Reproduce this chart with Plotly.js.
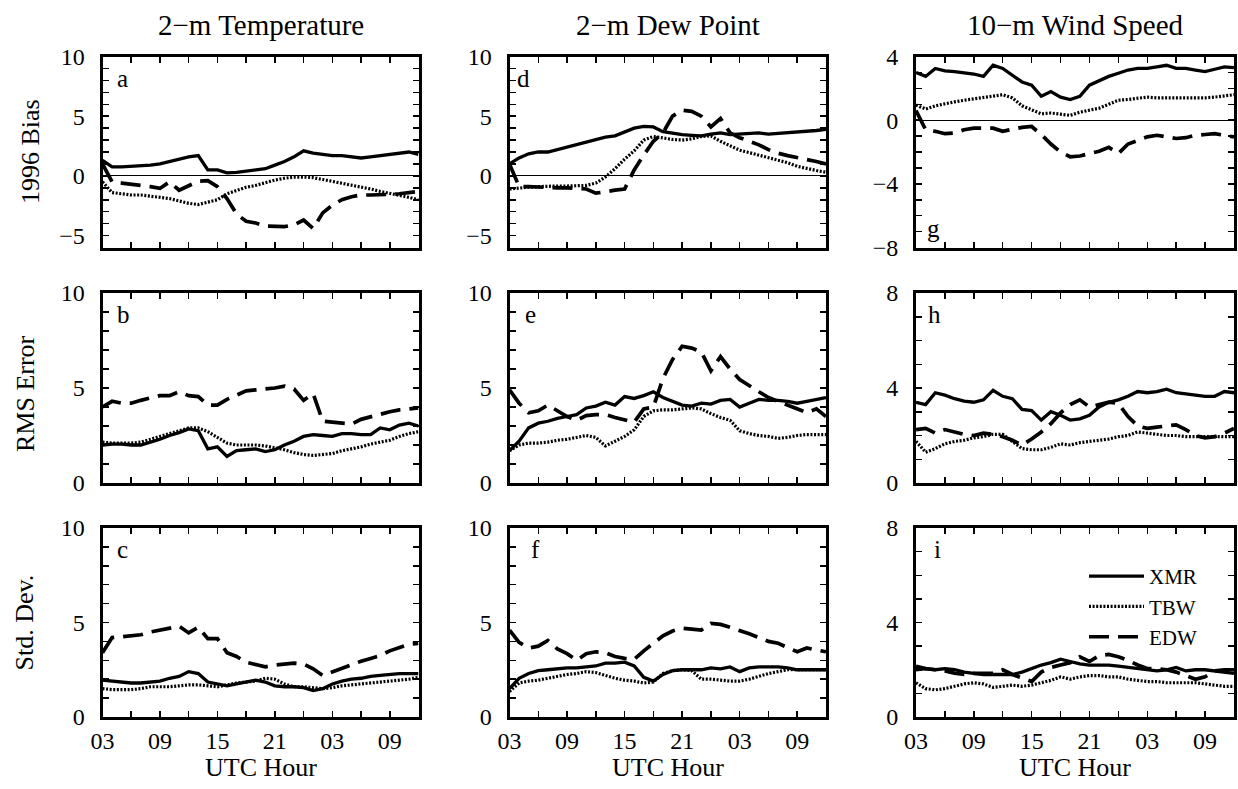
<!DOCTYPE html>
<html><head><meta charset="utf-8">
<script src="https://cdn.plot.ly/plotly-3.0.1.min.js"></script>
<style>html,body{margin:0;padding:0;background:#fff}#chart{width:1238px;height:789px}</style>
</head><body><div id="chart"></div>
<script>
// ---------------- DATA ----------------
const hours = [0,1,2,3,4,5,6,7,8,9,10,11,12,13,14,15,16,17,18,19,20,21,22,23,24,25,26,27,28,29,30,31,32,33];
const xTickVals = [0,3,6,9,12,15,18,21,24,27,30,33];
const xTickText = ['03','','09','','15','','21','','03','','09',''];

const seriesNames = ['XMR','TBW','EDW'];
const columnTitles = ['2\u2212m Temperature','2\u2212m Dew Point','10\u2212m Wind Speed'];
const rowTitles = ['1996 Bias','RMS Error','Std. Dev.'];
const panelLetters = [['a','d','g'],['b','e','h'],['c','f','i']];
const xAxisTitle = 'UTC Hour';

// Bias y ticks
const biasTickVals = [-6,-5,-4,-3,-2,-1,0,1,2,3,4,5,6,7,8,9,10];
const biasTickText = ['','\u22125','','','','','0','','','','','5','','','','','10'];
const windBiasTickVals = [-8,-7,-6,-5,-4,-3,-2,-1,0,1,2,3,4];
const windBiasTickText = ['\u22128','','','','\u22124','','','','0','','','','4'];
const errTickVals = [0,1,2,3,4,5,6,7,8,9,10];
const errTickText = ['0','','','','','5','','','','','10'];
const windErrTickVals = [0,1,2,3,4,5,6,7,8];
const windErrTickText = ['0','','','','4','','','','8'];

// Panel a: 2-m temperature bias
const tempBiasXMR = [1.3,0.75,0.75,0.8,0.8,0.9,1.0,1.2,1.4,1.6,1.7,0.5,0.5,0.25,0.3,0.4,0.5,0.6,0.9,1.2,1.6,2.1,1.9,1.8,1.7,1.7,1.6,1.5,1.6,1.7,1.8,1.9,2.0,1.8];
const tempBiasTBW = [-0.5,-1.4,-1.5,-1.6,-1.6,-1.7,-1.8,-1.9,-2.1,-2.3,-2.4,-2.2,-2.0,-1.5,-1.2,-0.95,-0.8,-0.55,-0.35,-0.2,-0.1,-0.1,-0.15,-0.3,-0.45,-0.6,-0.75,-0.9,-1.1,-1.3,-1.45,-1.6,-1.8,-2.0];
const tempBiasEDW = [1.0,-0.5,-0.6,-0.7,-0.75,-0.9,-1.05,-0.5,-1.2,-0.8,-0.45,-0.4,-0.9,-1.9,-3.2,-3.8,-3.95,-4.2,-4.25,-4.25,-4.1,-3.7,-4.4,-3.1,-2.45,-2.0,-1.75,-1.6,-1.6,-1.6,-1.55,-1.5,-1.4,-1.3];
// Panel b: 2-m temperature RMS error
const tempRmsXMR = [2.0,2.05,2.05,2.0,2.0,2.15,2.3,2.5,2.65,2.85,2.75,1.8,1.9,1.4,1.7,1.75,1.8,1.65,1.75,2.0,2.2,2.45,2.55,2.5,2.45,2.6,2.6,2.55,2.55,2.9,2.8,3.05,3.15,3.0];
const tempRmsTBW = [2.15,2.1,2.1,2.1,2.15,2.3,2.45,2.6,2.75,2.9,2.9,2.7,2.4,2.1,2.0,2.0,2.0,1.95,1.85,1.75,1.6,1.5,1.45,1.5,1.55,1.7,1.8,1.9,2.05,2.15,2.25,2.45,2.6,2.7];
const tempRmsEDW = [4.0,4.3,4.2,4.2,4.35,4.5,4.6,4.6,4.8,4.6,4.55,4.1,4.1,4.4,4.65,4.85,4.9,4.95,5.0,5.1,4.95,4.35,4.7,3.25,3.2,3.15,3.1,3.35,3.5,3.65,3.75,3.85,3.9,3.95];
// Panel c: 2-m temperature std. dev.
const tempStdXMR = [1.95,1.9,1.85,1.8,1.8,1.85,1.9,2.05,2.15,2.4,2.3,1.85,1.75,1.65,1.75,1.85,1.95,1.85,1.65,1.6,1.6,1.55,1.4,1.5,1.75,1.9,2.0,2.05,2.15,2.2,2.25,2.3,2.3,2.3];
const tempStdTBW = [1.5,1.45,1.45,1.45,1.5,1.6,1.6,1.6,1.65,1.7,1.7,1.65,1.6,1.7,1.8,1.85,1.9,2.05,2.0,1.75,1.6,1.6,1.55,1.5,1.55,1.65,1.7,1.75,1.8,1.85,1.9,1.95,2.0,2.1];
const tempStdEDW = [3.4,4.2,4.25,4.3,4.35,4.5,4.6,4.7,4.8,4.45,4.75,4.15,4.15,3.4,3.2,2.9,2.75,2.65,2.75,2.8,2.85,2.8,2.55,2.2,2.4,2.6,2.75,2.95,3.1,3.25,3.5,3.7,3.85,3.9];

// Panel d: 2-m dew point bias
const dewBiasXMR = [1.0,1.5,1.85,2.0,2.0,2.2,2.4,2.6,2.8,3.05,3.25,3.35,3.7,4.0,4.15,4.1,3.7,3.55,3.45,3.4,3.35,3.5,3.6,3.45,3.5,3.55,3.6,3.5,3.55,3.6,3.7,3.75,3.8,3.9];
const dewBiasTBW = [-1.1,-1.0,-0.95,-0.9,-0.85,-0.85,-0.85,-0.85,-0.8,-0.6,-0.1,0.6,1.4,2.1,3.0,3.3,3.15,3.05,3.0,3.1,3.3,3.35,2.9,2.5,2.15,1.95,1.75,1.55,1.3,1.1,0.8,0.6,0.45,0.3];
const dewBiasEDW = [1.0,-0.9,-0.9,-0.95,-0.95,-1.0,-1.0,-1.05,-1.1,-1.45,-1.3,-1.2,-1.1,0.5,1.75,2.9,3.6,5.0,5.5,5.4,5.0,4.1,4.8,3.6,3.2,2.9,2.6,2.2,1.9,1.7,1.55,1.35,1.2,1.0];
// Panel e: 2-m dew point RMS error
const dewRmsXMR = [1.7,2.2,2.9,3.15,3.25,3.4,3.5,3.6,3.95,4.05,4.25,4.1,4.55,4.45,4.6,4.8,4.5,4.3,4.1,4.05,4.2,4.15,4.35,4.4,4.0,4.2,4.4,4.35,4.35,4.3,4.2,4.3,4.4,4.5];
const dewRmsTBW = [1.7,2.0,2.1,2.1,2.15,2.25,2.3,2.4,2.5,2.4,1.95,2.2,2.45,2.8,3.5,3.8,3.85,3.85,3.9,3.95,3.9,3.65,3.45,3.3,2.75,2.6,2.5,2.45,2.35,2.4,2.5,2.55,2.55,2.55];
const dewRmsEDW = [4.9,4.2,3.7,3.8,4.1,3.8,3.5,3.3,3.55,3.6,3.6,3.45,3.3,3.2,3.9,4.0,5.5,6.5,7.2,7.1,6.9,5.9,6.65,6.0,5.45,5.1,4.8,4.5,4.3,4.05,3.85,3.7,3.9,3.5];
// Panel f: 2-m dew point std. dev.
const dewStdXMR = [1.5,2.05,2.3,2.45,2.5,2.55,2.6,2.6,2.65,2.7,2.85,2.85,2.9,2.7,2.1,1.9,2.25,2.45,2.5,2.5,2.5,2.6,2.55,2.65,2.4,2.6,2.65,2.65,2.65,2.6,2.5,2.5,2.5,2.5];
const dewStdTBW = [1.35,1.8,1.9,1.95,2.05,2.15,2.25,2.3,2.4,2.35,2.2,2.05,1.95,1.9,1.8,1.85,2.3,2.45,2.5,2.45,2.0,2.0,1.95,1.9,1.9,2.0,2.15,2.3,2.4,2.5,2.5,2.5,2.5,2.5];
const dewStdEDW = [4.6,3.95,3.65,3.75,4.05,3.6,3.35,3.0,3.35,3.45,3.4,3.2,3.1,3.05,3.5,3.9,4.3,4.55,4.7,4.65,4.6,4.95,4.9,4.75,4.6,4.4,4.2,4.0,3.9,3.7,3.45,3.65,3.55,3.45];

// Panel g: 10-m wind speed bias
const windBiasXMR = [3.0,2.75,3.25,3.1,3.05,3.0,2.9,2.75,3.45,3.25,2.8,2.4,2.2,1.5,1.8,1.45,1.3,1.5,2.2,2.5,2.75,2.95,3.15,3.25,3.25,3.35,3.45,3.25,3.25,3.15,3.05,3.2,3.35,3.3];
const windBiasTBW = [0.95,0.7,0.9,1.05,1.15,1.25,1.35,1.45,1.55,1.6,1.4,0.9,0.65,0.4,0.45,0.35,0.3,0.5,0.65,0.75,1.0,1.25,1.3,1.4,1.45,1.4,1.4,1.35,1.35,1.4,1.4,1.45,1.5,1.6];
const windBiasEDW = [0.6,-0.6,-0.7,-0.85,-0.8,-0.6,-0.5,-0.5,-0.5,-0.7,-0.55,-0.45,-0.4,-0.9,-1.5,-2.0,-2.3,-2.25,-2.1,-1.95,-1.7,-2.1,-1.5,-1.3,-1.05,-0.95,-1.05,-1.15,-1.1,-0.95,-0.9,-0.85,-0.95,-1.05];
// Panel h: 10-m wind speed RMS error
const windRmsXMR = [3.4,3.3,3.8,3.7,3.55,3.45,3.4,3.5,3.9,3.65,3.55,3.1,3.05,2.65,3.0,2.85,2.65,2.7,2.85,3.2,3.4,3.5,3.65,3.85,3.8,3.85,3.95,3.8,3.75,3.7,3.65,3.65,3.85,3.8];
const windRmsTBW = [1.75,1.3,1.45,1.65,1.75,1.8,1.9,1.95,2.05,2.05,1.75,1.45,1.4,1.4,1.5,1.65,1.6,1.7,1.75,1.8,1.85,1.95,2.0,2.15,2.1,2.05,2.0,2.0,1.95,1.95,1.95,1.95,1.95,1.95];
const windRmsEDW = [2.25,2.3,2.1,2.25,2.15,2.05,2.0,2.1,2.05,1.95,1.8,1.6,1.85,2.15,2.5,2.95,3.3,3.5,3.2,3.3,3.4,3.35,2.8,2.4,2.3,2.35,2.4,2.45,2.25,2.0,1.9,1.95,2.1,2.3];
// Panel i: 10-m wind speed std. dev.
const windStdXMR = [2.0,2.05,2.0,2.05,2.0,1.9,1.85,1.8,1.8,1.8,1.8,1.9,2.05,2.2,2.3,2.45,2.35,2.25,2.2,2.2,2.2,2.15,2.1,2.05,2.0,1.95,2.0,2.1,1.95,2.0,2.0,1.95,1.9,1.85];
const windStdTBW = [1.45,1.2,1.15,1.2,1.3,1.4,1.45,1.4,1.25,1.3,1.35,1.3,1.35,1.45,1.55,1.7,1.6,1.7,1.75,1.75,1.7,1.7,1.6,1.55,1.5,1.5,1.45,1.45,1.45,1.45,1.4,1.35,1.3,1.3];
const windStdEDW = [2.15,2.05,2.0,1.95,1.85,1.8,1.85,1.85,1.85,2.0,1.8,1.65,1.5,1.9,2.1,2.2,2.3,2.55,2.35,2.6,2.65,2.55,2.4,2.2,2.05,2.05,2.0,1.9,1.75,1.6,1.7,1.95,2.0,2.0];

// ---------------- LAYOUT ----------------
const W = 1238, H = 789;
const colL = [102.5, 509.5, 916], colR = [418.5, 826, 1234];
const rowT = [56.5, 293, 528], rowB = [247.5, 483, 717];
const px = v => v / W, py = v => 1 - v / H;
const FONT = "'Liberation Serif', 'Times New Roman', serif";

const panelData = [
  [[tempBiasXMR,tempBiasTBW,tempBiasEDW],[dewBiasXMR,dewBiasTBW,dewBiasEDW],[windBiasXMR,windBiasTBW,windBiasEDW]],
  [[tempRmsXMR,tempRmsTBW,tempRmsEDW],[dewRmsXMR,dewRmsTBW,dewRmsEDW],[windRmsXMR,windRmsTBW,windRmsEDW]],
  [[tempStdXMR,tempStdTBW,tempStdEDW],[dewStdXMR,dewStdTBW,dewStdEDW],[windStdXMR,windStdTBW,windStdEDW]]
];
const lineStyles = [
  {color:'#000', width:3.3, dash:'solid'},
  {color:'#000', width:3.2, dash:'2px,1.6px'},
  {color:'#000', width:3.7, dash:'20px,9px'}
];

const traces = [];
const layout = {
  width: W, height: H, autosize: false,
  margin: {l:0, r:0, t:0, b:0},
  paper_bgcolor: '#fff', plot_bgcolor: '#fff',
  font: {family: FONT, color: '#000', size: 24},
  showlegend: true,
  legend: {x: px(1084), y: py(556), xanchor: 'left', yanchor: 'top',
           bgcolor: 'rgba(0,0,0,0)', font: {family: FONT, size: 21, color:'#000'},
           itemwidth: 55, tracegroupgap: 0},
  annotations: []
};

const letterOffsets = [[12,5,9],[12,13,10],[12,19,16]];

for (let r = 0; r < 3; r++) {
  for (let c = 0; c < 3; c++) {
    const k = r * 3 + c + 1;
    const sfx = k > 1 ? String(k) : '';
    const wind = c === 2;
    let tv, tt, rng;
    if (r === 0) {
      if (wind) { tv = windBiasTickVals; tt = windBiasTickText; rng = [-8, 4]; }
      else { tv = biasTickVals; tt = biasTickText; rng = [-6, 10]; }
    } else {
      if (wind) { tv = windErrTickVals; tt = windErrTickText; rng = [0, 8]; }
      else { tv = errTickVals; tt = errTickText; rng = [0, 10]; }
    }
    layout['xaxis' + sfx] = {
      domain: [px(colL[c]), px(colR[c])], anchor: 'y' + sfx,
      range: [0, 33], tickmode: 'array', tickvals: xTickVals, ticktext: xTickText,
      showticklabels: r === 2, ticks: 'inside', ticklen: 6, tickwidth: 1.5, tickcolor: '#000',
      showline: true, linewidth: 3, linecolor: '#000', mirror: 'ticks',
      showgrid: false, zeroline: false, fixedrange: true,
      tickfont: {family: FONT, size: 24, color: '#000'}, ticklabelstandoff: 0
    };
    layout['yaxis' + sfx] = {
      domain: [py(rowB[r]), py(rowT[r])], anchor: 'x' + sfx,
      range: rng, tickmode: 'array', tickvals: tv, ticktext: tt,
      ticks: 'inside', ticklen: 6, tickwidth: 1.5, tickcolor: '#000',
      showline: true, linewidth: 3, linecolor: '#000', mirror: 'ticks',
      showgrid: false, zeroline: r === 0, zerolinecolor: '#000', zerolinewidth: 1.2,
      fixedrange: true, tickfont: {family: FONT, size: 24, color: '#000'}, ticklabelstandoff: 10
    };
    const d = panelData[r][c];
    for (let s = 0; s < 3; s++) {
      traces.push({
        type: 'scatter', mode: 'lines', x: hours, y: d[s], name: seriesNames[s],
        xaxis: 'x' + sfx, yaxis: 'y' + sfx, line: lineStyles[s],
        showlegend: k === 9, hoverinfo: 'skip'
      });
    }
    // panel letter
    const bottomLetter = (r === 0 && c === 2);
    layout.annotations.push({
      xref: 'paper', yref: 'paper', showarrow: false,
      x: px(colL[c] + letterOffsets[r][c]),
      y: bottomLetter ? py(rowB[r] - 4) : py(rowT[r] + 6),
      xanchor: 'left', yanchor: bottomLetter ? 'bottom' : 'top',
      text: panelLetters[r][c], font: {family: FONT, size: 25, color: '#000'}
    });
  }
}
// column titles
for (let c = 0; c < 3; c++) {
  layout.annotations.push({
    xref: 'paper', yref: 'paper', showarrow: false,
    x: px((colL[c] + colR[c]) / 2), y: py(25), xanchor: 'center', yanchor: 'middle',
    text: columnTitles[c], font: {family: FONT, size: 29, color: '#000'}
  });
  layout.annotations.push({
    xref: 'paper', yref: 'paper', showarrow: false,
    x: px((colL[c] + colR[c]) / 2), y: py(767), xanchor: 'center', yanchor: 'middle',
    text: xAxisTitle, font: {family: FONT, size: 26, color: '#000'}
  });
}
// row titles
const rowTitleX = [31, 25, 24];
for (let r = 0; r < 3; r++) {
  layout.annotations.push({
    xref: 'paper', yref: 'paper', showarrow: false, textangle: -90,
    x: px(rowTitleX[r]), y: py((rowT[r] + rowB[r]) / 2 + (r === 1 ? 6 : 0)),
    xanchor: 'center', yanchor: 'middle',
    text: rowTitles[r], font: {family: FONT, size: 26, color: '#000'}
  });
}

Plotly.newPlot('chart', traces, layout, {displayModeBar: false, staticPlot: true});
</script></body></html>
